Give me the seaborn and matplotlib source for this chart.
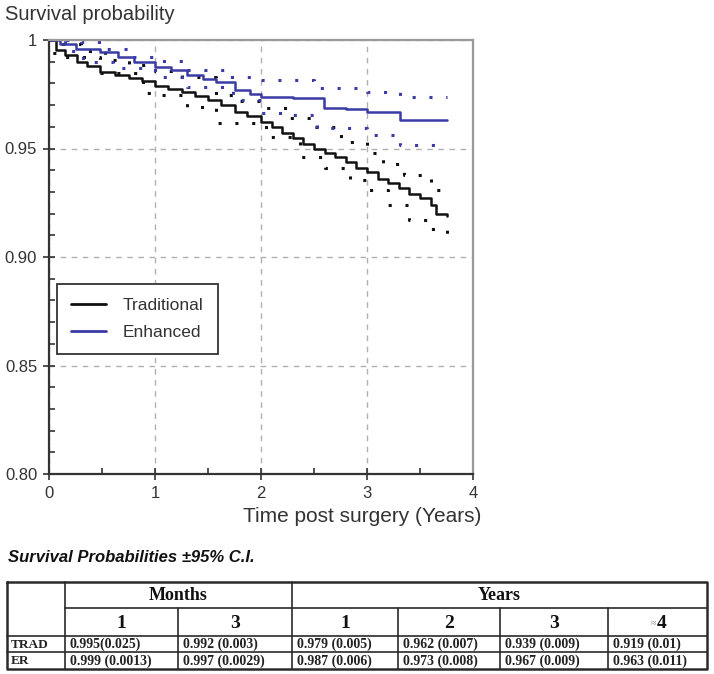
import numpy as np
import pandas as pd
import matplotlib
matplotlib.use("Agg")
import matplotlib.pyplot as plt
from matplotlib.lines import Line2D
from matplotlib.ticker import MultipleLocator
import seaborn as sns

# ---------------- data ----------------
trad_t = [0, 0.07, 0.15, 0.26, 0.36, 0.48, 0.62, 0.75, 0.88, 1.0, 1.12, 1.25, 1.38, 1.5, 1.62,
          1.75, 1.87, 2.0, 2.1, 2.2, 2.3, 2.4, 2.5, 2.6, 2.7, 2.8, 2.9, 3.0, 3.1, 3.2, 3.3,
          3.4, 3.5, 3.6, 3.65, 3.75]
trad_s = [1.0, 0.9955, 0.993, 0.990, 0.988, 0.9853, 0.984, 0.9825, 0.981, 0.979, 0.9775, 0.976,
          0.974, 0.9725, 0.970, 0.967, 0.965, 0.962, 0.960, 0.957, 0.955, 0.952, 0.950, 0.948,
          0.946, 0.944, 0.941, 0.939, 0.936, 0.934, 0.932, 0.929, 0.927, 0.924, 0.920, 0.919]

trad_up_t = [0, 0.1, 0.3, 0.53, 0.75, 1.0, 1.25, 1.58, 1.8, 2.0, 2.25, 2.5, 2.75, 3.0, 3.15,
             3.35, 3.6, 3.75]
trad_up_s = [1.0, 0.998, 0.995, 0.991, 0.9885, 0.9855, 0.983, 0.9747, 0.972, 0.9686, 0.964,
             0.960, 0.953, 0.948, 0.943, 0.938, 0.931, 0.929]

trad_lo_t = [0, 0.03, 0.1, 0.48, 0.89, 1.0, 1.3, 1.58, 2.05, 2.37, 2.6, 2.84, 3.0, 3.2, 3.4,
             3.6, 3.75]
trad_lo_s = [1.0, 0.994, 0.992, 0.985, 0.9756, 0.9745, 0.969, 0.9617, 0.9553, 0.946, 0.941,
             0.9355, 0.931, 0.924, 0.917, 0.913, 0.910]

enh_t = [0, 0.1, 0.25, 0.48, 0.65, 0.8, 1.0, 1.15, 1.3, 1.45, 1.58, 1.75, 1.9, 2.0, 2.3,
         2.59, 2.8, 3.0, 3.31, 3.75]
enh_s = [1.0, 0.998, 0.996, 0.9945, 0.992, 0.990, 0.9876, 0.986, 0.984, 0.982, 0.9806, 0.977,
         0.975, 0.9737, 0.9732, 0.9686, 0.968, 0.9668, 0.963, 0.963]

enh_up_t = [0, 0.3, 0.55, 0.8, 1.0, 1.3, 1.7, 2.0, 2.5, 3.0, 3.31, 3.75]
enh_up_s = [1.0, 0.999, 0.996, 0.992, 0.9905, 0.986, 0.983, 0.9815, 0.978, 0.976, 0.9737, 0.9737]

enh_lo_t = [0, 0.15, 0.32, 0.6, 1.0, 1.3, 1.74, 2.0, 2.27, 2.53, 3.0, 3.31, 3.75]
enh_lo_s = [1.0, 0.995, 0.990, 0.987, 0.983, 0.9783, 0.9723, 0.9663, 0.9654, 0.9594, 0.956,
            0.9516, 0.9516]

y_ticks = [0.80, 0.85, 0.90, 0.95, 1.0]
y_tick_labels = ["0.80", "0.85", "0.90", "0.95", "1"]
x_ticks = [0, 1, 2, 3, 4]

# table contents
tab_groups = ["Months", "Years"]
tab_periods = ["1", "3", "1", "2", "3", "4"]
tab_rows = ["TRAD", "ER"]
tab_trad = ["0.995(0.025)", "0.992 (0.003)", "0.979 (0.005)", "0.962 (0.007)", "0.939 (0.009)", "0.919 (0.01)"]
tab_er = ["0.999 (0.0013)", "0.997 (0.0029)", "0.987 (0.006)", "0.973 (0.008)", "0.967 (0.009)", "0.963 (0.011)"]

# ---------------- style ----------------
sns.set_theme(style="white")
plt.rcParams['font.family'] = ['Liberation Sans', 'DejaVu Sans']

BLACK = '#111111'
BLUE = '#3b3ba6'
TXT = '#333333'

fig = plt.figure(figsize=(7.14, 6.74), dpi=100)
ax = fig.add_axes([49 / 714, 1 - 474 / 674, 424 / 714, 434 / 674])

dot = (0, (1, 4.5))
sns.lineplot(x=trad_t, y=trad_s, ax=ax, color=BLACK, lw=1.8, drawstyle='steps-post')
sns.lineplot(x=trad_up_t, y=trad_up_s, ax=ax, color=BLACK, lw=2.2, ls=dot, drawstyle='steps-post')
sns.lineplot(x=trad_lo_t, y=trad_lo_s, ax=ax, color=BLACK, lw=2.2, ls=dot, drawstyle='steps-post')
sns.lineplot(x=enh_t, y=enh_s, ax=ax, color=BLUE, lw=1.8, drawstyle='steps-post')
sns.lineplot(x=enh_up_t, y=enh_up_s, ax=ax, color=BLUE, lw=2.2, ls=dot, drawstyle='steps-post')
sns.lineplot(x=enh_lo_t, y=enh_lo_s, ax=ax, color=BLUE, lw=2.2, ls=dot, drawstyle='steps-post')

ax.set_xlim(0, 4)
ax.set_ylim(0.80, 1.0)
ax.set_xticks(x_ticks)
ax.set_yticks(y_ticks)
ax.set_yticklabels(y_tick_labels)
ax.xaxis.set_minor_locator(MultipleLocator(0.5))
ax.yaxis.set_minor_locator(MultipleLocator(0.01))
ax.tick_params(which='major', direction='inout', length=9, width=1.2, color=TXT,
               labelsize=12, labelcolor=TXT, pad=4, bottom=True, left=True)
ax.tick_params(which='minor', direction='in', length=4, width=1.2, color=TXT,
               bottom=True, left=True)
ax.grid(True, which='major', color='#b0b0b0', ls=(0, (4, 4)), lw=1)

for s in ['left', 'bottom']:
    ax.spines[s].set_color('#333333')
    ax.spines[s].set_linewidth(1.6)
for s in ['top', 'right']:
    ax.spines[s].set_color('#9a9a9a')
    ax.spines[s].set_linewidth(1.6)

ax.set_xlabel("Time post surgery (Years)", fontsize=15, color=TXT, ha='right')
ax.xaxis.set_label_coords(1.02, -0.075)
ax.set_ylabel("")
fig.text(5 / 714, 1 - 14 / 674, "Survival probability", fontsize=14.5, color=TXT, va='center', ha='left')

handles = [Line2D([], [], color=BLACK, lw=2), Line2D([], [], color=BLUE, lw=2)]
leg = ax.legend(handles, ["Traditional", "Enhanced"], loc='upper left',
                bbox_to_anchor=(0.019, 0.438), borderaxespad=0, fancybox=False,
                fontsize=12.5, handlelength=2.0, handletextpad=1.0, borderpad=0.8,
                labelspacing=0.7, edgecolor='#333333', framealpha=1)
leg.get_frame().set_linewidth(1.3)
for t in leg.get_texts():
    t.set_color(TXT)

# ---------------- table (drawn on a pixel-space overlay) ----------------
tx = fig.add_axes([0, 0, 1, 1])
tx.set_xlim(0, 714)
tx.set_ylim(674, 0)
tx.axis('off')

fig.text(8 / 714, 1 - 558 / 674, "Survival Probabilities \u00b195% C.I.", fontsize=12,
         style='italic', weight='bold', color='#111111', va='center', ha='left')

cols = [7, 65, 178, 292, 398, 500, 608, 707]
rows = [582, 608, 636, 652, 669]
lc = '#2a2a2a'
# outer border
tx.plot([cols[0], cols[-1], cols[-1], cols[0], cols[0]],
        [rows[0], rows[0], rows[-1], rows[-1], rows[0]], color=lc, lw=1.8)
# horizontal lines
tx.plot([cols[1], cols[-1]], [rows[1], rows[1]], color=lc, lw=1.2)
for r in rows[2:-1]:
    tx.plot([cols[0], cols[-1]], [r, r], color=lc, lw=1.2)
# vertical lines
tx.plot([cols[1], cols[1]], [rows[0], rows[-1]], color=lc, lw=1.2)
tx.plot([cols[3], cols[3]], [rows[0], rows[-1]], color=lc, lw=1.2)
for c in [cols[2], cols[4], cols[5], cols[6]]:
    tx.plot([c, c], [rows[1], rows[-1]], color=lc, lw=1.2)

serif = ['Liberation Serif', 'DejaVu Serif']
tx.text((cols[1] + cols[3]) / 2, (rows[0] + rows[1]) / 2 + 1, tab_groups[0], family=serif,
        fontsize=13, weight='bold', ha='center', va='center', color='#111111')
tx.text((cols[3] + cols[7]) / 2, (rows[0] + rows[1]) / 2 + 1, tab_groups[1], family=serif,
        fontsize=13, weight='bold', ha='center', va='center', color='#111111')
for i, p in enumerate(tab_periods):
    cx = (cols[i + 1] + cols[i + 2]) / 2
    cy = (rows[1] + rows[2]) / 2 + 1
    if i == len(tab_periods) - 1:
        tx.text(cx - 1, cy, "\u2248", family=serif, fontsize=7, ha='right', va='center', color='#888888')
        tx.text(cx - 1, cy, p, family=serif, fontsize=14, weight='bold', ha='left', va='center', color='#111111')
    else:
        tx.text(cx, cy, p, family=serif, fontsize=14, weight='bold', ha='center', va='center', color='#111111')

for j, (lab, vals) in enumerate(zip(tab_rows, [tab_trad, tab_er])):
    cy = (rows[2 + j] + rows[3 + j]) / 2 + 0.5
    tx.text(cols[0] + 4, cy, lab, family=serif, fontsize=9.5, weight='bold', ha='left', va='center',
            color='#222222')
    for i, v in enumerate(vals):
        tx.text(cols[i + 1] + 5, cy, v, family=serif, fontsize=10, weight='bold', ha='left',
                va='center', color='#222222')

fig.savefig("out.png", dpi=100)
